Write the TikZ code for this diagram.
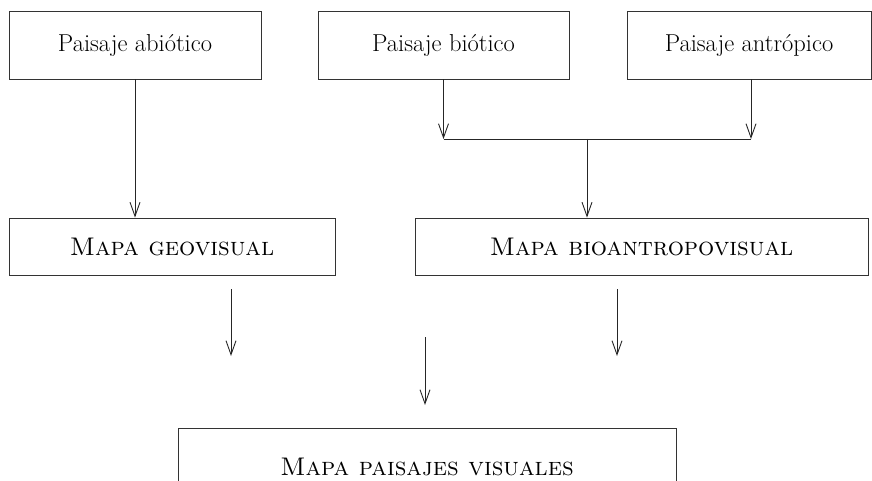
\documentclass[tikz,border=0pt]{standalone}
\usetikzlibrary{arrows.meta}
\begin{document}
\begin{tikzpicture}[x=1pt,y=-1pt,
  box/.style={draw=black!80,line width=0.9pt,rectangle,inner sep=0pt,font=\fontsize{24.5}{28}\selectfont},
  scbox/.style={box,font=\fontsize{25.5}{30}\selectfont\scshape},
  arr/.style={draw=black!85,line width=0.9pt,-{Straight Barb[length=14pt,width=10pt,line width=0.9pt]}},
  ln/.style={draw=black!85,line width=0.9pt}]
\useasboundingbox (0,0) rectangle (872,481);
\clip (0,0) rectangle (872,481);
\node[box,minimum width=252pt,minimum height=68pt] (abio) at (135,45) {Paisaje abiótico};
\node[box,minimum width=251pt,minimum height=68pt] (bio) at (443.5,45) {Paisaje biótico};
\node[box,minimum width=244pt,minimum height=68pt] (antro) at (749,45) {Paisaje antrópico};
\node[scbox,minimum width=326pt,minimum height=57pt] (geo) at (172,246.5) {Mapa geovisual};
\node[scbox,minimum width=453pt,minimum height=57pt] (bioantro) at (641.5,246.5) {Mapa bioantropovisual};
\node[scbox,minimum width=498pt,minimum height=78pt] (mpv) at (427,467) {Mapa paisajes visuales};
\coordinate (j1) at (443.5,139);
\coordinate (j2) at (751,139);
\coordinate (jm) at (587,139);
\coordinate (a1s) at (231,289);
\coordinate (a1e) at (231,356);
\coordinate (a2s) at (617,289);
\coordinate (a2e) at (617,356);
\coordinate (a3s) at (425,337);
\coordinate (a3e) at (425,405);
\draw[arr] (abio.south) -- (abio.south |- geo.north);
\draw[arr] (bio.south) -- (bio.south |- j1);
\draw[arr] (antro.south -| j2) -- (j2);
\draw[ln] (j1) -- (j2);
\draw[arr] (jm) -- (jm |- bioantro.north);
\draw[arr] (a1s) -- (a1e);
\draw[arr] (a2s) -- (a2e);
\draw[arr] (a3s) -- (a3e);
\end{tikzpicture}
\end{document}
